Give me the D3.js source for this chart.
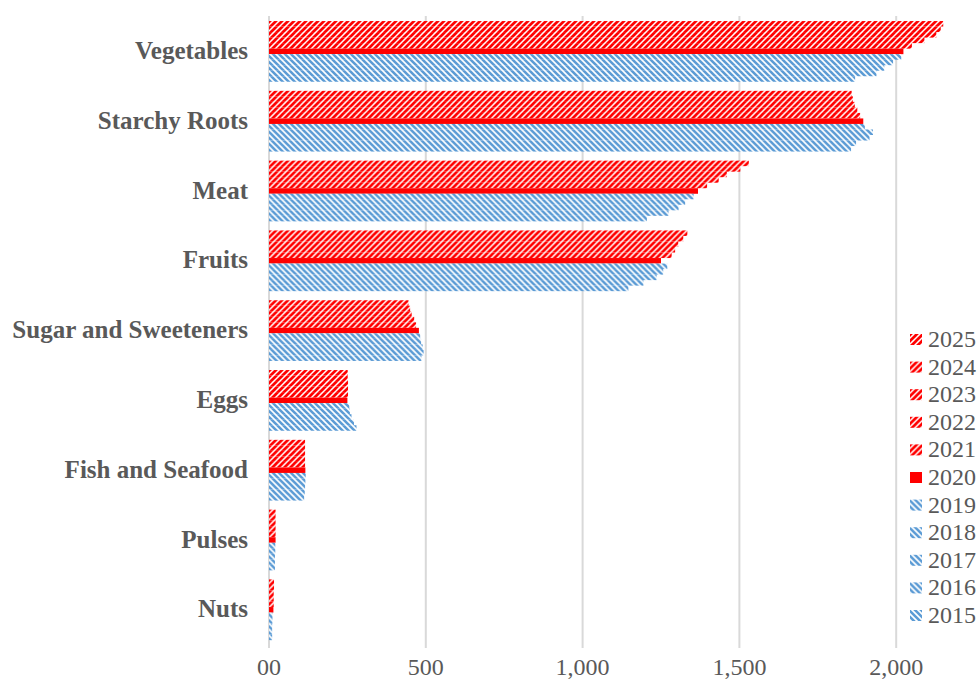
<!DOCTYPE html>
<html><head><meta charset="utf-8">
<script src="https://cdn.jsdelivr.net/npm/d3@7"></script>
<style>html,body{margin:0;padding:0;background:#fff;}</style>
</head><body>
<svg id="chart" width="980" height="679"></svg>
<script>
const categories = ["Vegetables","Starchy Roots","Meat","Fruits","Sugar and Sweeteners","Eggs","Fish and Seafood","Pulses","Nuts"];
const years = ["2025","2024","2023","2022","2021","2020","2019","2018","2017","2016","2015"];
const v2025 = [2150,1858,1530,1334,445,251,115,21,16];
const v2024 = [2142,1862,1503,1321,450,251,115,21,16];
const v2023 = [2128,1868,1460,1305,455,252,115,21,15];
const v2022 = [2090,1876,1434,1295,463,252,115,21,15];
const v2021 = [2050,1885,1397,1284,469,252,115,21,15];
const v2020 = [2023,1895,1368,1250,478,250,116,21,14];
const v2019 = [2016,1900,1354,1270,482,256,117,20,11];
const v2018 = [1990,1926,1327,1257,485,258,116,20,11];
const v2017 = [1962,1915,1306,1236,490,263,115,19,10];
const v2016 = [1937,1872,1274,1194,493,271,114,19,10];
const v2015 = [1869,1856,1205,1146,486,279,112,19,10];
const seriesValues = [v2025,v2024,v2023,v2022,v2021,v2020,v2019,v2018,v2017,v2016,v2015];
const tickValues = [0,500,1000,1500,2000];
const tickLabels = ["00","500","1,000","1,500","2,000"];

const RED = "#ff0000", BLUE = "#5b9bd5", TEXT = "#595959", GRID = "#d9d9d9";
const fillFor = y => y === "2020" ? RED : (+y > 2020 ? "url(#hatchRed)" : "url(#hatchBlue)");

const svg = d3.select("#chart");
const defs = svg.append("defs");
const pr = defs.append("pattern").attr("id","hatchRed").attr("patternUnits","userSpaceOnUse")
  .attr("width",6).attr("height",6);
pr.append("rect").attr("width",6).attr("height",6).attr("fill","#fff");
pr.append("path").attr("d","M-1.5,1.5 L1.5,-1.5 M0,6 L6,0 M4.5,7.5 L7.5,4.5")
  .attr("stroke",RED).attr("stroke-width",2.7);
const pb = defs.append("pattern").attr("id","hatchBlue").attr("patternUnits","userSpaceOnUse")
  .attr("width",6).attr("height",6);
pb.append("rect").attr("width",6).attr("height",6).attr("fill","#fff");
pb.append("path").attr("d","M-1.5,4.5 L1.5,7.5 M0,0 L6,6 M4.5,-1.5 L7.5,1.5")
  .attr("stroke",BLUE).attr("stroke-width",2.6);

const x = d3.scaleLinear().domain([0,2000]).range([269,896.2]);
const y = d3.scaleBand().domain(categories).range([16.5,644.7]).paddingInner(0.13).paddingOuter(0.065);
const yInner = d3.scaleBand().domain(years).range([0,y.bandwidth()]);

// gridlines
svg.append("g").selectAll("line").data(tickValues).join("line")
  .attr("x1",d=>x(d)).attr("x2",d=>x(d)).attr("y1",16).attr("y2",648)
  .attr("stroke",GRID).attr("stroke-width",2);

// bars
const groups = svg.append("g").selectAll("g").data(categories).join("g")
  .attr("transform",c=>`translate(0,${y(c)})`);
groups.selectAll("rect").data((c,ci)=>years.map((yr,si)=>({yr, v: seriesValues[si][ci]})))
  .join("rect")
  .attr("x",x(0)).attr("y",d=>yInner(d.yr))
  .attr("width",d=>x(d.v)-x(0)).attr("height",yInner.bandwidth())
  .attr("fill",d=>fillFor(d.yr));

// category labels
svg.append("g").selectAll("text").data(categories).join("text")
  .attr("x",248).attr("y",c=>y(c)+y.bandwidth()/2+7.5)
  .attr("text-anchor","end").attr("font-family","'Liberation Serif','Times New Roman',serif")
  .attr("font-weight","bold").attr("font-size",25).attr("fill",TEXT).text(c=>c);

// x tick labels
svg.append("g").selectAll("text").data(tickValues).join("text")
  .attr("x",d=>x(d)).attr("y",675).attr("text-anchor","middle")
  .attr("font-family","'Liberation Serif','Times New Roman',serif")
  .attr("font-size",24).attr("fill",TEXT).text((d,i)=>tickLabels[i]);

// legend
const leg = svg.append("g").selectAll("g").data(years).join("g")
  .attr("transform",(d,i)=>`translate(910,${347 + i*27.6})`);
leg.append("rect").attr("x",0).attr("y",-13).attr("width",12).attr("height",11)
  .attr("fill",d=>fillFor(d));
leg.append("text").attr("x",18).attr("y",0)
  .attr("font-family","'Liberation Serif','Times New Roman',serif")
  .attr("font-size",24).attr("fill",TEXT).text(d=>d);
</script>
</body></html>
